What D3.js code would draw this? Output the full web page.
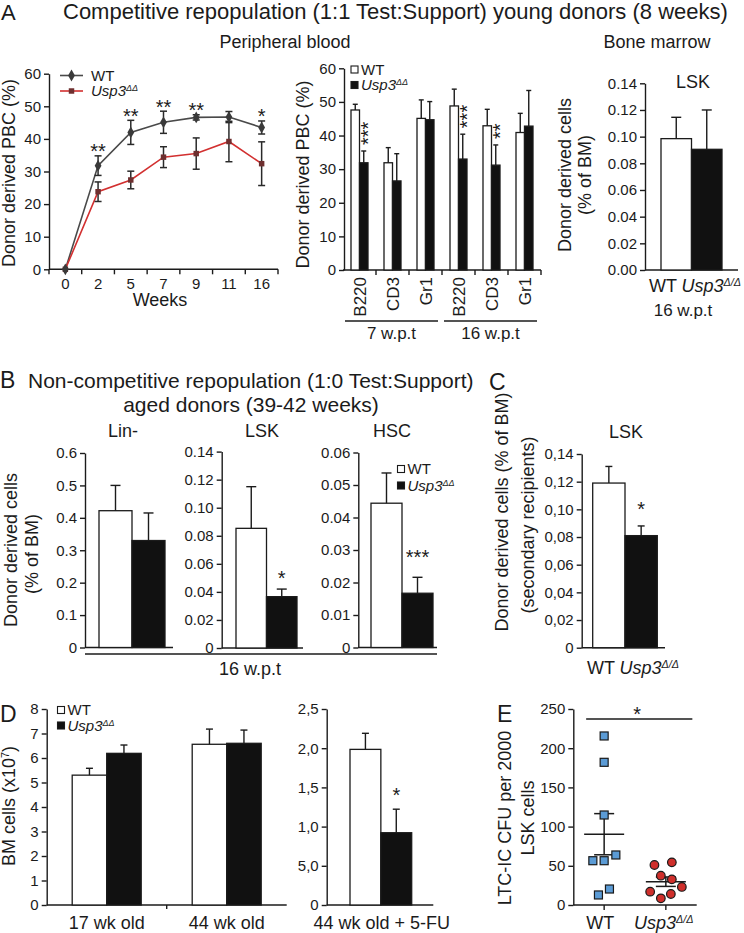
<!DOCTYPE html>
<html>
<head>
<meta charset="utf-8">
<script src="https://cdn.jsdelivr.net/npm/d3@7/dist/d3.min.js"></script>
<style>
  html,body{margin:0;padding:0;background:#fff;}
  svg{display:block;}
</style>
</head>
<body>
<script>
// ======================= DATA =======================
const series = ["WT", "Usp3"];

// A – competitive repopulation, peripheral blood over time
const weeks = ["0", "2", "5", "7", "9", "11", "16"];
const pbcWT = [0, 31.8, 42.0, 45.1, 46.6, 46.7, 43.5];
const pbcWTErr = [0, 3.0, 3.7, 3.4, 0.8, 1.7, 2.0];
const pbcKO = [0, 23.8, 27.4, 34.4, 35.5, 39.2, 32.4];
const pbcKOErr = [0, 3.0, 2.7, 3.2, 4.8, 6.2, 6.7];
const pbcStars = ["", "**", "**", "**", "**", "", "*"];
const pbcTicks = [0, 10, 20, 30, 40, 50, 60];

// A – lineage contribution
const lineageCats = ["B220", "CD3", "Gr1", "B220", "CD3", "Gr1"];
const lineageGroupIdx = [0, 0, 0, 1, 1, 1];
const lineageGroups = ["7 w.p.t", "16 w.p.t"];
const lineageWT = [47.6, 31.9, 45.1, 48.8, 42.9, 40.9];
const lineageWTErr = [1.7, 4.5, 5.5, 5.0, 4.9, 5.7];
const lineageKO = [31.9, 26.5, 44.7, 33.0, 31.2, 42.8];
const lineageKOErr = [3.5, 8.1, 5.4, 7.4, 6.0, 10.6];
const lineageStars = ["***", "", "", "***", "**", ""];

// A – bone marrow LSK
const bmLSK = [0.0985, 0.0905];
const bmLSKErr = [0.016, 0.0295];
const bmLSKTicks = [0, 0.02, 0.04, 0.06, 0.08, 0.10, 0.12, 0.14];

// B – aged donors
const linMinus = [0.422, 0.330];
const linMinusErr = [0.078, 0.085];
const linTicks = [0, 0.1, 0.2, 0.3, 0.4, 0.5, 0.6];
const agedLSK = [0.0853, 0.0366];
const agedLSKErr = [0.0297, 0.0054];
const agedLSKTicks = [0, 0.02, 0.04, 0.06, 0.08, 0.10, 0.12, 0.14];
const agedHSC = [0.0444, 0.0167];
const agedHSCErr = [0.0093, 0.0049];
const hscTicks = [0, 0.01, 0.02, 0.03, 0.04, 0.05, 0.06];

// C – secondary recipients
const secLSK = [0.119, 0.081];
const secLSKErr = [0.012, 0.007];
const secTicks = [0, 0.02, 0.04, 0.06, 0.08, 0.10, 0.12, 0.14];
const secTickLabels = ["0", "0,02", "0,04", "0,06", "0,08", "0,10", "0,12", "0,14"];

// D – BM cellularity
const ageGroups = ["17 wk old", "44 wk old"];
const bmCellsWT = [5.3, 6.56];
const bmCellsWTErr = [0.28, 0.62];
const bmCellsKO = [6.19, 6.6];
const bmCellsKOErr = [0.34, 0.54];
const bmCellTicks = [0, 1, 2, 3, 4, 5, 6, 7, 8];
const fuCells = [1.985, 0.922];
const fuCellsErr = [0.205, 0.30];
const fuTicks = [0, 0.5, 1, 1.5, 2, 2.5];
const fuTickLabels = ["0", "5,0", "1,0", "1,5", "2,0", "2,5"];

// E – LTC-IC
const lticWT = [215.6, 182, 114.8, 63.8, 56.5, 56.5, 20.4, 12.8];
const lticKO = [51, 54.4, 37.4, 32.7, 23, 17, 14, 8.5];
const lticTicks = [0, 50, 100, 150, 200, 250];

// ======================= LAYOUT / STYLE =======================
const W = 744, H = 933;
const FONT = '"Liberation Sans", Arial, Helvetica, sans-serif';
const INK = "#1b1b1b";
const TICK_FS = 15, LAB_FS = 18, LEG_FS = 15, STAR_FS = 20;
// horizontal scatter offsets (px) of the dot plot in E
const swarmWT = [0, 0, 0, 11.7, -11.3, 0, 5.3, -5.7];
const swarmKO = [-11.4, 6, -5, 6, 16, -15.7, 5, -5];

const svg = d3.select("body").append("svg")
  .attr("width", W).attr("height", H).attr("font-family", FONT);
svg.append("rect").attr("width", W).attr("height", H).attr("fill", "#fff");

function text(x, y, s, o = {}) {
  const t = svg.append("text").attr("x", x).attr("y", y)
    .attr("font-size", o.size || LAB_FS).attr("fill", INK)
    .attr("text-anchor", o.anchor || "middle");
  if (o.rot) t.attr("transform", `rotate(${o.rot},${x},${y})`);
  if (s != null) t.append("tspan").text(s);
  return t;
}
function usp3(t, sup) {
  t.append("tspan").attr("font-style", "italic").text("Usp3");
  t.append("tspan").attr("font-style", "italic").attr("font-size", "0.6em")
    .attr("dy", "-0.55em").text(sup);
  return t;
}
function hline(x1, x2, y, w = 1.4) {
  return svg.append("line").attr("x1", x1).attr("x2", x2).attr("y1", y).attr("y2", y)
    .attr("stroke", INK).attr("stroke-width", w);
}
function yAxis(x, y, ticks, fmt) {
  const g = svg.append("g").attr("transform", `translate(${x},0)`)
    .call(d3.axisLeft(y).tickValues(ticks).tickFormat(fmt)
      .tickSize(5).tickSizeOuter(0).tickPadding(3));
  g.attr("font-family", FONT).attr("font-size", TICK_FS);
  g.select(".domain").attr("stroke", INK).attr("stroke-width", 1.4);
  g.selectAll(".tick line").attr("stroke", INK).attr("stroke-width", 1.4);
  g.selectAll(".tick text").attr("fill", INK);
  return g;
}
function downTicks(xs, y0, len = 5) {
  svg.append("g").selectAll("line").data(xs).join("line")
    .attr("x1", d => d).attr("x2", d => d).attr("y1", y0).attr("y2", y0 + len)
    .attr("stroke", INK).attr("stroke-width", 1.4);
}
function bars(rows, y, cap) {
  const g = svg.append("g");
  g.selectAll("rect").data(rows).join("rect")
    .attr("x", d => d.x).attr("width", d => d.w)
    .attr("y", d => y(d.v)).attr("height", d => y(0) - y(d.v))
    .attr("fill", d => d.k === "WT" ? "#fff" : "#111")
    .attr("stroke", INK).attr("stroke-width", 1.3);
  g.selectAll("line.err").data(rows).join("line").attr("class", "err")
    .attr("x1", d => d.x + d.w / 2).attr("x2", d => d.x + d.w / 2)
    .attr("y1", d => y(d.v)).attr("y2", d => y(d.v + d.e))
    .attr("stroke", INK).attr("stroke-width", 1.4);
  g.selectAll("line.cap").data(rows).join("line").attr("class", "cap")
    .attr("x1", d => d.x + d.w / 2 - cap / 2).attr("x2", d => d.x + d.w / 2 + cap / 2)
    .attr("y1", d => y(d.v + d.e)).attr("y2", d => y(d.v + d.e))
    .attr("stroke", INK).attr("stroke-width", 1.4);
}
function starAbove(x, yTop, s, gap = 19) {
  text(x, yTop - gap + 0.575 * STAR_FS, s, { size: STAR_FS });
}
function legendBoxes(x, y, sup, rowGap) {
  series.forEach((k, i) => {
    svg.append("rect").attr("x", x).attr("y", y + i * rowGap).attr("width", 7).attr("height", 7)
      .attr("fill", k === "WT" ? "#fff" : "#111").attr("stroke", INK).attr("stroke-width", 1.1);
    const t = text(x + 10, y + i * rowGap + 8.8, null, { size: LEG_FS, anchor: "start" });
    if (k === "WT") t.append("tspan").text("WT"); else usp3(t, sup);
  });
}
function pairChart(o) {
  const y = d3.scaleLinear().domain(o.domain).range(o.yRange);
  yAxis(o.axisX, y, o.ticks, o.fmt);
  hline(o.axisX, o.axisEnd, y(0));
  const x = d3.scaleBand().domain(series).range(o.barRange);
  const rows = series.map((k, i) => ({ k, v: o.vals[i], e: o.errs[i], x: x(k), w: x.bandwidth() }));
  bars(rows, y, o.cap || 10);
  const top = i => y(o.vals[i] + o.errs[i]);
  const mid = k => x(k) + x.bandwidth() / 2;
  return { x, y, top, mid };
}
const zeroOr = f => d => d === 0 ? "0" : d3.format(f)(d);

// ======================= PANEL A =======================
text(1, 20, "A", { anchor: "start", size: 22 });
text(63, 19, "Competitive repopulation (1:1 Test:Support) young donors (8 weeks)", { anchor: "start", size: 22 });
text(285, 48, "Peripheral blood");
text(657, 48, "Bone marrow");

// line chart
{
  const x = d3.scaleBand().domain(weeks).range([49, 278]);
  const y = d3.scaleLinear().domain([0, 60]).range([269.3, 73.7]);
  const cx = w => x(w) + x.bandwidth() / 2;
  yAxis(49, y, pbcTicks, d3.format("d"));
  hline(49, 278, y(0));
  downTicks(weeks.map(w => x(w)).concat(x.range()[1]), y(0));
  svg.append("g").selectAll("text").data(weeks).join("text")
    .attr("x", cx).attr("y", y(0) + 19.5).attr("text-anchor", "middle")
    .attr("font-size", TICK_FS).attr("fill", INK).text(d => d);
  text(160, 306, "Weeks");
  text(15, 173, "Donor derived PBC (%)", { rot: -90 });

  const rows = weeks.map((w, i) => ({ w, wt: pbcWT[i], wte: pbcWTErr[i], ko: pbcKO[i], koe: pbcKOErr[i], star: pbcStars[i] }));
  svg.append("path").attr("d", d3.line().x(d => cx(d.w)).y(d => y(d.wt))(rows))
    .attr("fill", "none").attr("stroke", "#4a4a4a").attr("stroke-width", 1.6);
  svg.append("path").attr("d", d3.line().x(d => cx(d.w)).y(d => y(d.ko))(rows))
    .attr("fill", "none").attr("stroke", "#d23030").attr("stroke-width", 1.6);

  const eb = rows.filter(d => d.koe > 0).map(d => ({ x: cx(d.w), v: d.ko, e: d.koe }))
    .concat(rows.filter(d => d.wte > 0).map(d => ({ x: cx(d.w), v: d.wt, e: d.wte })));
  const g = svg.append("g").attr("stroke", "#2a2a2a").attr("stroke-width", 1.5);
  g.selectAll("line.v").data(eb).join("line").attr("class", "v")
    .attr("x1", d => d.x).attr("x2", d => d.x).attr("y1", d => y(d.v - d.e)).attr("y2", d => y(d.v + d.e));
  g.selectAll("line.t").data(eb).join("line").attr("class", "t")
    .attr("x1", d => d.x - 3.5).attr("x2", d => d.x + 3.5).attr("y1", d => y(d.v + d.e)).attr("y2", d => y(d.v + d.e));
  g.selectAll("line.b").data(eb).join("line").attr("class", "b")
    .attr("x1", d => d.x - 3.5).attr("x2", d => d.x + 3.5).attr("y1", d => y(d.v - d.e)).attr("y2", d => y(d.v - d.e));

  svg.append("g").selectAll("path").data(rows).join("path")
    .attr("transform", d => `translate(${cx(d.w)},${y(d.ko)})`)
    .attr("d", d3.symbol(d3.symbolSquare, 30)).attr("fill", "#6e2f2f");
  svg.append("g").selectAll("path").data(rows).join("path")
    .attr("transform", d => `translate(${cx(d.w)},${y(d.wt)})`)
    .attr("d", d3.symbol(d3.symbolDiamond, 40)).attr("fill", "#3a3a3a");

  rows.filter(d => d.star).forEach(d => {
    text(cx(d.w), y(d.wt + d.wte) - 9 + 0.575 * STAR_FS, d.star, { size: STAR_FS });
  });

  // legend
  [["WT", "#4a4a4a", d3.symbolDiamond, "#3a3a3a", 75.5], ["Usp3", "#d23030", d3.symbolSquare, "#6e2f2f", 91]]
    .forEach(([k, lc, sym, mc, ly]) => {
      hline(60, 83, ly, 1.6).attr("stroke", lc);
      svg.append("path").attr("transform", `translate(71.5,${ly})`)
        .attr("d", d3.symbol(sym, k === "WT" ? 40 : 30)).attr("fill", mc);
      const t = text(91, ly + 5.4, null, { size: LEG_FS, anchor: "start" });
      if (k === "WT") t.append("tspan").text("WT"); else usp3(t, "ΔΔ");
    });
}

// lineage bar chart
{
  const y = d3.scaleLinear().domain([0, 60]).range([270, 68.3]);
  const x = d3.scaleBand().domain(d3.range(lineageCats.length)).range([343, 541]);
  const xi = d3.scaleBand().domain(series).range([-8.5, 8.5]);
  const mid = i => x(i) + x.bandwidth() / 2;
  yAxis(344, y, pbcTicks, d3.format("d"));
  hline(343, 541, y(0));
  downTicks(x.domain().map(i => x(i)).slice(1).concat(x.range()[1]), y(0));
  const rows = [];
  lineageCats.forEach((c, i) => {
    rows.push({ k: "WT", v: lineageWT[i], e: lineageWTErr[i], x: mid(i) + xi("WT"), w: xi.bandwidth() });
    rows.push({ k: "Usp3", v: lineageKO[i], e: lineageKOErr[i], x: mid(i) + xi("Usp3"), w: xi.bandwidth() });
  });
  bars(rows, y, 5);
  svg.append("g").selectAll("text").data(lineageCats).join("text")
    .attr("transform", (d, i) => `translate(${mid(i)},277) rotate(-90)`)
    .attr("text-anchor", "end").attr("dy", "0.36em").attr("font-size", 17).attr("fill", INK).text(d => d);
  lineageStars.forEach((s, i) => {
    if (!s) return;
    const bx = mid(i) + xi("Usp3") + xi.bandwidth() / 2;
    const yt = y(lineageKO[i] + lineageKOErr[i]) - 6;
    svg.append("text").attr("transform", `translate(${bx + 0.575 * STAR_FS},${yt}) rotate(-90)`)
      .attr("font-size", STAR_FS).attr("fill", INK).text(s);
  });
  lineageGroups.forEach((gname, gi) => {
    const idx = lineageGroupIdx.map((g, i) => g === gi ? i : -1).filter(i => i >= 0);
    const x1 = x(idx[0]) + 2, x2 = x(idx[idx.length - 1]) + x.bandwidth() - 4;
    hline(x1, x2, 321);
    text((x1 + x2) / 2, 339, gname, { size: 17 });
  });
  text(309, 174.5, "Donor derived PBC (%)", { rot: -90 });
  legendBoxes(351, 66, "ΔΔ", 15.5);
}

// bone marrow LSK
{
  pairChart({ domain: [0, 0.14], yRange: [270, 83.3], axisX: 645, axisEnd: 738,
    ticks: bmLSKTicks, fmt: d3.format(".2f"), vals: bmLSK, errs: bmLSKErr, barRange: [661, 722], cap: 10 });
  text(693, 88, "LSK");
  text(571, 175, "Donor derived cells", { rot: -90 });
  text(591, 175, "(% of BM)", { rot: -90 });
  usp3(text(695, 292, "WT "), "Δ/Δ");
  text(683, 316, "16 w.p.t", { size: 17 });
}

// ======================= PANEL B =======================
text(0, 388, "B", { anchor: "start", size: 23 });
text(28, 388, "Non-competitive repopulation (1:0 Test:Support)", { anchor: "start", size: 21 });
text(251, 412, "aged donors (39-42 weeks)", { size: 21 });
{
  pairChart({ domain: [0, 0.6], yRange: [647.5, 453], axisX: 85, axisEnd: 173,
    ticks: linTicks, fmt: zeroOr(".1f"), vals: linMinus, errs: linMinusErr, barRange: [99, 165] });
  text(123, 437, "Lin-");

  const lsk = pairChart({ domain: [0, 0.14], yRange: [648, 451.6], axisX: 221.7, axisEnd: 303,
    ticks: agedLSKTicks, fmt: zeroOr(".2f"), vals: agedLSK, errs: agedLSKErr, barRange: [236, 297] });
  text(262, 437, "LSK");
  starAbove(lsk.mid("Usp3"), lsk.top(1), "*", 16);

  const hsc = pairChart({ domain: [0, 0.06], yRange: [647.5, 452.5], axisX: 358.3, axisEnd: 437,
    ticks: hscTicks, fmt: zeroOr(".2f"), vals: agedHSC, errs: agedHSCErr, barRange: [371, 433] });
  text(392, 437, "HSC");
  starAbove(hsc.mid("Usp3"), hsc.top(1), "***", 25);
  legendBoxes(397.5, 465.5, "ΔΔ", 16.5);

  hline(85, 437, 654);
  text(250, 675, "16 w.p.t");
  text(16.5, 550, "Donor derived cells", { rot: -90 });
  text(38, 554, "(% of BM)", { rot: -90 });
}

// ======================= PANEL C =======================
text(489, 390, "C", { anchor: "start", size: 23 });
{
  const sec = pairChart({ domain: [0, 0.14], yRange: [647.7, 454], axisX: 581.7, axisEnd: 665,
    ticks: secTicks, fmt: (d, i) => secTickLabels[i], vals: secLSK, errs: secLSKErr, barRange: [592.7, 657.3], cap: 7 });
  text(626, 438, "LSK");
  starAbove(sec.mid("Usp3"), sec.top(1), "*", 21);
  usp3(text(633, 674, "WT "), "Δ/Δ");
  text(508, 512, "Donor derived cells (% of BM)", { rot: -90 });
  text(534, 525, "(secondary recipients)", { rot: -90 });
}

// ======================= PANEL D =======================
text(0, 722, "D", { anchor: "start", size: 23 });
{
  const y = d3.scaleLinear().domain([0, 8]).range([905, 709]);
  yAxis(46.7, y, bmCellTicks, d3.format("d"));
  const x = d3.scaleBand().domain(ageGroups).range([46.7, 286.7]);
  const xi = d3.scaleBand().domain(series).range([-34.5, 34.5]);
  const mid = g => x(g) + x.bandwidth() / 2;
  hline(46.7, 286.7, y(0));
  downTicks([x(ageGroups[1])], y(0), 4);
  const rows = [];
  ageGroups.forEach((g, i) => {
    rows.push({ k: "WT", v: bmCellsWT[i], e: bmCellsWTErr[i], x: mid(g) + xi("WT"), w: xi.bandwidth() });
    rows.push({ k: "Usp3", v: bmCellsKO[i], e: bmCellsKOErr[i], x: mid(g) + xi("Usp3"), w: xi.bandwidth() });
  });
  bars(rows, y, 7);
  svg.append("g").selectAll("text").data(ageGroups).join("text")
    .attr("x", mid).attr("y", 929).attr("text-anchor", "middle")
    .attr("font-size", LAB_FS).attr("fill", INK).text(d => d);
  legendBoxes(57.5, 706.5, "ΔΔ", 15.5);
  const t = text(15, 806, "BM cells (x10", { rot: -90 });
  t.append("tspan").attr("font-size", "0.6em").attr("dy", -6.5).text("7");
  t.append("tspan").attr("dy", 6.5).text(")");
}
{
  const fu = pairChart({ domain: [0, 2.5], yRange: [905, 709], axisX: 326.7, axisEnd: 433.3,
    ticks: fuTicks, fmt: (d, i) => fuTickLabels[i], vals: fuCells, errs: fuCellsErr, barRange: [350, 411.7], cap: 7 });
  starAbove(fu.mid("Usp3"), fu.top(1), "*", 19);
  text(381.7, 929, "44 wk old + 5-FU");
}

// ======================= PANEL E =======================
text(497, 722, "E", { anchor: "start", size: 23 });
{
  const y = d3.scaleLinear().domain([0, 250]).range([905, 709]);
  yAxis(573.3, y, lticTicks, d3.format("d"));
  const x = d3.scalePoint().domain(series).range([573.3, 696.7]).padding(0.5);
  hline(573.3, 696.7, y(0));
  downTicks(series.map(k => x(k)), y(0), 5);

  const groups = [
    { k: "WT", vals: lticWT, dx: swarmWT },
    { k: "Usp3", vals: lticKO, dx: swarmKO }
  ];
  groups.forEach(gr => {
    const m = d3.mean(gr.vals), sem = d3.deviation(gr.vals) / Math.sqrt(gr.vals.length);
    const cxm = x(gr.k);
    const g = svg.append("g").attr("stroke", INK).attr("stroke-width", 1.5);
    g.append("line").attr("x1", cxm - 20).attr("x2", cxm + 20).attr("y1", y(m)).attr("y2", y(m));
    g.append("line").attr("x1", cxm).attr("x2", cxm).attr("y1", y(m - sem)).attr("y2", y(m + sem));
    g.append("line").attr("x1", cxm - 10).attr("x2", cxm + 10).attr("y1", y(m + sem)).attr("y2", y(m + sem));
    g.append("line").attr("x1", cxm - 10).attr("x2", cxm + 10).attr("y1", y(m - sem)).attr("y2", y(m - sem));
    const pts = gr.vals.map((v, i) => ({ v, dx: gr.dx[i] }));
    if (gr.k === "WT") {
      svg.append("g").selectAll("rect").data(pts).join("rect")
        .attr("x", d => cxm + d.dx - 4).attr("y", d => y(d.v) - 4).attr("width", 8).attr("height", 8)
        .attr("fill", "#5b9bd5").attr("stroke", "#1a1a1a").attr("stroke-width", 1.2);
    } else {
      svg.append("g").selectAll("circle").data(pts).join("circle")
        .attr("cx", d => cxm + d.dx).attr("cy", d => y(d.v)).attr("r", 4.3)
        .attr("fill", "#cf2f2b").attr("stroke", "#1a1a1a").attr("stroke-width", 1.2);
    }
  });
  const s1 = x("WT") - 18, s2 = x("Usp3") + 26.5;
  hline(s1, s2, 719, 1.5);
  text((s1 + s2) / 2 - 2, 721, "*", { size: STAR_FS });
  text(x("WT") - 4, 929, "WT");
  usp3(text(x("Usp3") - 2, 929, null), "Δ/Δ");
  text(511, 818, "LTC-IC CFU per 2000", { rot: -90 });
  text(534, 818, "LSK cells", { rot: -90 });
}
</script>
</body>
</html>
